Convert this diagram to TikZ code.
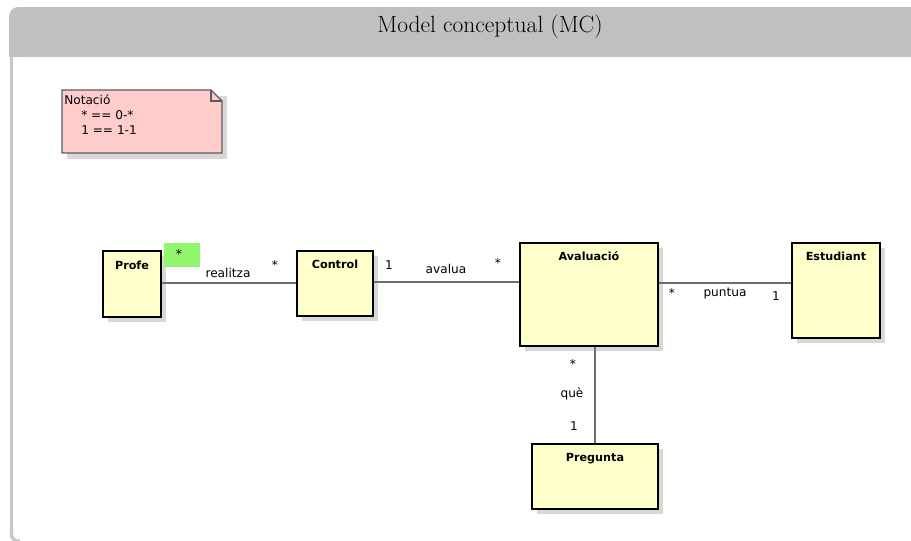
\documentclass[tikz,border=0pt]{standalone}
\usepackage{fontspec}
\setmainfont{Latin Modern Roman}
\newfontfamily\umlfont{DejaVu Sans}
\usetikzlibrary{fit,shadows}

\definecolor{framegray}{RGB}{192,192,192}
\definecolor{barGray}{RGB}{200,200,200}
\definecolor{clsfill}{RGB}{255,255,204}
\definecolor{notefill}{RGB}{255,204,204}
\definecolor{noteline}{RGB}{90,90,90}
\definecolor{shadowgray}{RGB}{216,216,216}
\definecolor{linkgray}{RGB}{110,110,110}
\definecolor{tagGreen}{RGB}{146,245,110}

\tikzset{
  cls/.style={draw=black, line width=1.6pt, fill=clsfill, inner sep=0pt,
    drop shadow={shadow xshift=3.75pt, shadow yshift=-3.75pt,
      fill=shadowgray, opacity=1}},
  clsname/.style={font=\umlfont\bfseries\fontsize{8.4}{10}\selectfont,
    anchor=base, inner sep=0pt},
  lbl/.style={font=\umlfont\fontsize{9.1}{11}\selectfont, inner sep=0pt},
  link/.style={draw=linkgray, line width=1pt},
}

\begin{document}
\begin{tikzpicture}[x=0.75pt, y=-0.75pt]
  \useasboundingbox (0,0) rectangle (911,540);
  \clip (0,0) rectangle (911,540);

  % frame: left border and grey title bar
  \draw[barGray, line width=2.6pt, rounded corners=5] (11.5,20) -- (11.5,541) -- (20,541);
  \fill[framegray, rounded corners=7] (9,7) rectangle (930,57);
  \fill[framegray] (9,40) rectangle (930,57);
  \node[font=\fontsize{17.6}{21}\selectfont, anchor=base] (title) at (490,32) {Model conceptual (MC)};

  % note with folded corner
  \fill[shadowgray] (67,96) rectangle (227,159);
  \draw[noteline, fill=notefill, line width=0.8pt]
    (62,90) -- (211,90) -- (222,101) -- (222,153) -- (62,153) -- cycle;
  \draw[noteline, line width=0.8pt] (211,90) -- (211,101) -- (222,101);
  \node[lbl, anchor=base west] (n1) at (64,104) {Notació};
  \node[lbl, anchor=base west] (n2) at (81,119) {* == 0-*};
  \node[lbl, anchor=base west] (n3) at (81,134) {1 == 1-1};

  % classes
  \node[cls, fit={(103,251) (161,317)}] (profe) {};
  \node[cls, fit={(297,251) (373,316)}] (control) {};
  \node[cls, fit={(520,243) (658,346)}] (aval) {};
  \node[cls, fit={(792,243) (880,338)}] (estud) {};
  \node[cls, fit={(532,444) (658,509)}] (preg) {};

  \node[clsname] (tprofe) at (132,269) {Profe};
  \node[clsname] (tcontrol) at (335,268) {Control};
  \node[clsname] (taval) at (589,260) {Avaluació};
  \node[clsname] (testud) at (836,260) {Estudiant};
  \node[clsname] (tpreg) at (595,461) {Pregunta};

  % associations
  \draw[link] (profe.east |- 0,283) -- (control.west |- 0,283);
  \draw[link] (control.east |- 0,282) -- (aval.west |- 0,282);
  \draw[link] (aval.east |- 0,283) -- (estud.west |- 0,283);
  \draw[link] (preg.north) -- (preg.north |- aval.south);

  % association labels and multiplicities
  \node[fill=tagGreen, minimum width=27pt, minimum height=18pt, inner sep=0pt] (tag) at (182,255) {};
  \node[lbl] (m1) at (179,254) {*};
  \node[lbl, anchor=base] (a1) at (228,277) {realitza};
  \node[lbl] (m2) at (275,265) {*};

  \node[lbl, anchor=base] (m3) at (389,269) {1};
  \node[lbl, anchor=base] (a2) at (446,273) {avalua};
  \node[lbl] (m4) at (498,263) {*};

  \node[lbl] (m5) at (672,293) {*};
  \node[lbl, anchor=base] (a3) at (725,296) {puntua};
  \node[lbl, anchor=base] (m6) at (776,300) {1};

  \node[lbl] (m7) at (573,364) {*};
  \node[lbl, anchor=base] (a4) at (572,397) {què};
  \node[lbl, anchor=base] (m8) at (574,430) {1};
\end{tikzpicture}
\end{document}
